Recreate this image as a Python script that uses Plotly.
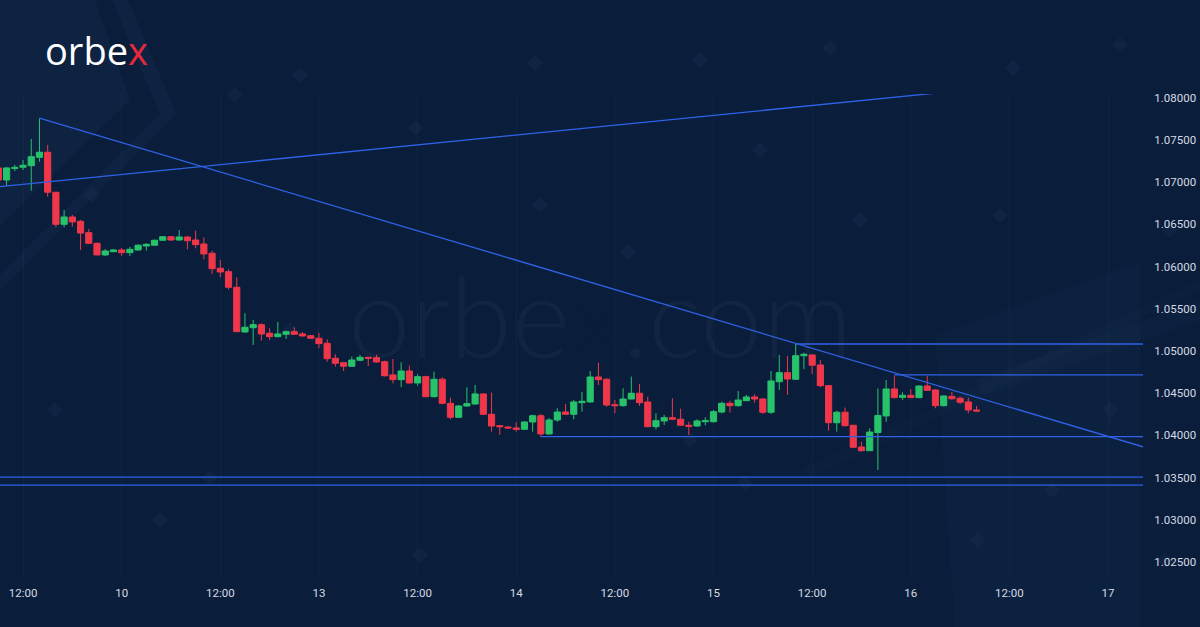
import plotly.graph_objects as go
import pandas as pd

# ---------------- data (hourly candles, 9 Jun 09:00 -> 16 Jun 08:00, weekend skipped) -------------
open_ = [1.07169, 1.07026, 1.07163, 1.07177, 1.07196, 1.07295, 1.07355, 1.06881, 1.06501, 1.06588,
         1.06537, 1.06402, 1.06276, 1.06138, 1.06177, 1.06197, 1.06165, 1.06197, 1.06244, 1.06253,
         1.06312, 1.06354, 1.06315, 1.06351, 1.06315, 1.06268, 1.06158, 1.05980, 1.05940, 1.05755,
         1.05225, 1.05276, 1.05312, 1.05210, 1.05170, 1.05198, 1.05229, 1.05202, 1.05181, 1.05151,
         1.05091, 1.04914, 1.04861, 1.04819, 1.04890, 1.04925, 1.04921, 1.04873, 1.04716, 1.04660,
         1.04763, 1.04621, 1.04696, 1.04459, 1.04665, 1.04380, 1.04214, 1.04348, 1.04372, 1.04491,
         1.04250, 1.04115, 1.04099, 1.04088, 1.04072, 1.04159, 1.04233, 1.04017, 1.04182, 1.04277,
         1.04250, 1.04387, 1.04396, 1.04692, 1.04665, 1.04364, 1.04352, 1.04431, 1.04499, 1.04396,
         1.04103, 1.04171, 1.04210, 1.04191, 1.04120, 1.04111, 1.04162, 1.04162, 1.04277, 1.04380,
         1.04352, 1.04411, 1.04455, 1.04431, 1.04274, 1.04636, 1.04743, 1.04665, 1.04944, 1.04953,
         1.04834, 1.04589, 1.04150, 1.04274, 1.04120, 1.03862, 1.03819, 1.04034, 1.04230, 1.04550,
         1.04451, 1.04475, 1.04447, 1.04585, 1.04538, 1.04352, 1.04463, 1.04440, 1.04396, 1.04301]
high = [1.07192, 1.07180, 1.07204, 1.07263, 1.07512, 1.07758, 1.07441, 1.06884, 1.06671, 1.06612,
        1.06552, 1.06446, 1.06283, 1.06209, 1.06209, 1.06221, 1.06233, 1.06264, 1.06276, 1.06319,
        1.06363, 1.06363, 1.06434, 1.06363, 1.06426, 1.06347, 1.06189, 1.06078, 1.05968, 1.05873,
        1.05447, 1.05367, 1.05328, 1.05269, 1.05344, 1.05241, 1.05281, 1.05225, 1.05190, 1.05217,
        1.05139, 1.04961, 1.04870, 1.04933, 1.04953, 1.04925, 1.04956, 1.04885, 1.04905, 1.04866,
        1.04826, 1.04724, 1.04707, 1.04755, 1.04688, 1.04447, 1.04360, 1.04570, 1.04597, 1.04499,
        1.04506, 1.04123, 1.04108, 1.04155, 1.04167, 1.04245, 1.04254, 1.04206, 1.04321, 1.04372,
        1.04419, 1.04514, 1.04763, 1.04861, 1.04676, 1.04419, 1.04558, 1.04696, 1.04609, 1.04459,
        1.04262, 1.04242, 1.04440, 1.04316, 1.04162, 1.04191, 1.04214, 1.04301, 1.04399, 1.04411,
        1.04526, 1.04479, 1.04487, 1.04443, 1.04763, 1.04953, 1.04941, 1.05083, 1.04980, 1.04961,
        1.04893, 1.04597, 1.04293, 1.04330, 1.04123, 1.03925, 1.04084, 1.04556, 1.04656, 1.04710,
        1.04511, 1.04546, 1.04591, 1.04704, 1.04546, 1.04473, 1.04514, 1.04459, 1.04447, 1.04348]
low = [1.07003, 1.06955, 1.07133, 1.07145, 1.06900, 1.07243, 1.06828, 1.06466, 1.06466, 1.06473,
       1.06197, 1.06268, 1.06134, 1.06126, 1.06170, 1.06126, 1.06126, 1.06189, 1.06189, 1.06248,
       1.06304, 1.06307, 1.06307, 1.06205, 1.06217, 1.06087, 1.05912, 1.05873, 1.05731, 1.05225,
       1.05217, 1.05071, 1.05122, 1.05130, 1.05162, 1.05142, 1.05190, 1.05170, 1.05142, 1.05032,
       1.04873, 1.04814, 1.04763, 1.04814, 1.04882, 1.04822, 1.04861, 1.04696, 1.04617, 1.04573,
       1.04617, 1.04589, 1.04451, 1.04449, 1.04368, 1.04191, 1.04210, 1.04340, 1.04364, 1.04242,
       1.04044, 1.04005, 1.04079, 1.04044, 1.04064, 1.04044, 1.03984, 1.04008, 1.04162, 1.04242,
       1.04191, 1.04281, 1.04387, 1.04597, 1.04340, 1.04262, 1.04340, 1.04428, 1.04348, 1.04096,
       1.04072, 1.04123, 1.04182, 1.04111, 1.04005, 1.04103, 1.04120, 1.04150, 1.04262, 1.04269,
       1.04340, 1.04408, 1.04387, 1.04254, 1.04254, 1.04538, 1.04479, 1.04656, 1.04783, 1.04728,
       1.04570, 1.04056, 1.04044, 1.04103, 1.03851, 1.03807, 1.03815, 1.03590, 1.04162, 1.04440,
       1.04419, 1.04447, 1.04443, 1.04526, 1.04321, 1.04342, 1.04423, 1.04372, 1.04262, 1.04281]
close = [1.07026, 1.07169, 1.07175, 1.07201, 1.07302, 1.07355, 1.06881, 1.06501, 1.06588, 1.06529,
         1.06398, 1.06276, 1.06138, 1.06185, 1.06197, 1.06165, 1.06205, 1.06253, 1.06264, 1.06312,
         1.06354, 1.06315, 1.06351, 1.06307, 1.06260, 1.06150, 1.05975, 1.05936, 1.05755, 1.05229,
         1.05281, 1.05312, 1.05202, 1.05170, 1.05202, 1.05229, 1.05198, 1.05178, 1.05151, 1.05087,
         1.04909, 1.04854, 1.04819, 1.04893, 1.04925, 1.04914, 1.04870, 1.04707, 1.04660, 1.04763,
         1.04621, 1.04696, 1.04459, 1.04665, 1.04380, 1.04214, 1.04348, 1.04376, 1.04491, 1.04250,
         1.04111, 1.04103, 1.04088, 1.04072, 1.04159, 1.04233, 1.04017, 1.04182, 1.04277, 1.04250,
         1.04396, 1.04404, 1.04692, 1.04660, 1.04360, 1.04352, 1.04431, 1.04499, 1.04387, 1.04103,
         1.04174, 1.04210, 1.04191, 1.04120, 1.04108, 1.04171, 1.04174, 1.04281, 1.04380, 1.04352,
         1.04419, 1.04455, 1.04431, 1.04274, 1.04645, 1.04743, 1.04668, 1.04944, 1.04961, 1.04831,
         1.04589, 1.04150, 1.04274, 1.04115, 1.03859, 1.03819, 1.04040, 1.04236, 1.04550, 1.04447,
         1.04475, 1.04449, 1.04585, 1.04534, 1.04352, 1.04467, 1.04434, 1.04393, 1.04301, 1.04289]

all_hours = pd.date_range("2022-06-09 09:00", "2022-06-16 08:00", freq="h")
times = all_hours[all_hours.dayofweek < 5]

x_tick_vals = ["2022-06-09 12:00", "2022-06-10 00:00", "2022-06-10 12:00", "2022-06-13 00:00",
               "2022-06-13 12:00", "2022-06-14 00:00", "2022-06-14 12:00", "2022-06-15 00:00",
               "2022-06-15 12:00", "2022-06-16 00:00", "2022-06-16 12:00", "2022-06-17 00:00"]
x_tick_text = ["12:00", "10", "12:00", "13", "12:00", "14", "12:00", "15", "12:00", "16", "12:00", "17"]
y_tick_vals = [1.025, 1.030, 1.035, 1.040, 1.045, 1.050, 1.055, 1.060, 1.065, 1.070, 1.075, 1.080]

x_range = ["2022-06-09 09:12", "2022-06-17 04:15"]
y_range = [1.0231, 1.08045]

# drawn levels: (start time, price); run to the right edge
levels = [("2022-06-15 10:00", 1.05083), ("2022-06-15 22:00", 1.04716), ("2022-06-14 03:00", 1.03984),
          ("2022-06-09 09:00", 1.03505), ("2022-06-09 09:00", 1.03410)]
# trend lines: (x0, y0, x1, y1)
trend_lines = [("2022-06-09 14:00", 1.07758, "2022-06-17 04:15", 1.03865),
               ("2022-06-09 09:00", 1.06945, "2022-06-17 04:15", 1.08301)]

BG = "#0a1e3c"
GREEN = "#27c36b"
RED = "#f0374a"
LINE = "#2f62e6"
TXT = "#d6dae2"

fig = go.Figure()
fig.add_trace(go.Candlestick(
    x=times, open=open_, high=high, low=low, close=close,
    increasing=dict(line=dict(color=GREEN, width=1), fillcolor=GREEN),
    decreasing=dict(line=dict(color=RED, width=1), fillcolor=RED),
    whiskerwidth=0, showlegend=False, hoverinfo="skip"))

shapes = []
# background decoration (faint)
W, T, B = 1143.0, 94.0, 578.0
def P(px, py):
    return px / W, (B - py) / (B - T)

def poly(pts, alpha):
    s = ""
    for k, (px, py) in enumerate(pts):
        X, Y = P(px, py)
        s += ("M" if k == 0 else "L") + f"{X:.5f},{Y:.5f}"
    s += "Z"
    return dict(type="path", xref="paper", yref="paper", path=s, layer="below",
                fillcolor=f"rgba(140,170,220,{alpha})", line=dict(width=0))

shapes.append(poly([(0, 0), (95, 0), (130, 100), (0, 225)], 0.035))
shapes.append(poly([(112, 0), (128, 0), (176, 114), (0, 290), (0, 275), (160, 114)], 0.04))
shapes.append(poly([(935, 335), (1140, 262), (1140, 627), (955, 627)], 0.025))
shapes.append(poly([(975, 380), (1200, 300), (1200, 320), (985, 395)], 0.025))
shapes.append(poly([(800, 470), (1200, 280), (1200, 290), (810, 478)], 0.02))

for (px, py) in [(535, 63), (700, 60), (830, 48), (1013, 68), (1120, 45), (415, 128), (92, 195),
                 (290, 330), (210, 478), (160, 520), (540, 205), (628, 252), (690, 440), (745, 483),
                 (1110, 410), (1052, 490), (978, 540), (300, 75), (860, 220), (1000, 215), (420, 555),
                 (235, 95), (760, 150), (1170, 230), (55, 410), (1165, 560)]:
    X, Y = P(px, py)
    shapes.append(dict(type="path", xref="paper", yref="paper", xsizemode="pixel", ysizemode="pixel",
                       xanchor=X, yanchor=Y, path="M0,8L8,0L0,-8L-8,0Z", layer="below",
                       fillcolor="rgba(140,170,220,0.045)", line=dict(width=0)))

for (t0, p) in levels:
    shapes.append(dict(type="line", xref="x", yref="y", x0=t0, x1=x_range[1], y0=p, y1=p,
                       line=dict(color=LINE, width=1.3), layer="above"))
for (t0, p0, t1, p1) in trend_lines:
    shapes.append(dict(type="line", xref="x", yref="y", x0=t0, x1=t1, y0=p0, y1=p1,
                       line=dict(color=LINE, width=1.3), layer="above"))
# cover above the plot top so the top price label appears clipped like the original
shapes.append(dict(type="rect", xref="paper", yref="paper", x0=1.0, x1=1.06, y0=1.0, y1=1.03,
                   fillcolor=BG, line=dict(width=0), layer="above"))

annotations = [
    dict(text="orbe<span style='color:#e8283c'>x</span>", xref="paper", yref="paper",
         x=P(43, 0)[0], y=P(0, 50)[1], xanchor="left", yanchor="middle", showarrow=False,
         font=dict(family="Open Sans", size=38, color="#ffffff", weight=400)),
    dict(text="orbe<span style='color:rgb(26,27,54)'>x</span>.com", xref="paper", yref="paper",
         x=P(600, 0)[0], y=P(0, 314)[1], xanchor="center", yanchor="middle", showarrow=False,
         font=dict(family="Lato", size=112, color="rgba(160,185,225,0.05)", weight=300)),
]

fig.update_layout(
    width=1200, height=627,
    margin=dict(l=0, r=57, t=94, b=49),
    paper_bgcolor=BG, plot_bgcolor="rgba(0,0,0,0)",
    boxgap=0.25, boxgroupgap=0.0,
    shapes=shapes, annotations=annotations,
    font=dict(family="Roboto", size=11.5, color=TXT),
    showlegend=False,
    xaxis=dict(range=x_range, type="date", rangeslider=dict(visible=False),
               rangebreaks=[dict(bounds=["sat", "mon"])],
               tickmode="array", tickvals=x_tick_vals, ticktext=x_tick_text,
               ticks="outside", ticklen=4, tickcolor="rgba(0,0,0,0)",
               showgrid=True, gridcolor="rgba(255,255,255,0.03)", gridwidth=1,
               showline=False, zeroline=False, tickfont=dict(color=TXT, size=11.5)),
    yaxis=dict(range=y_range, side="right", tickmode="array", tickvals=y_tick_vals,
               tickformat=".5f", ticks="outside", ticklen=8, tickcolor="rgba(0,0,0,0)",
               showgrid=False, showline=False, zeroline=False, tickfont=dict(color=TXT, size=11.5)),
)

fig.write_html("out.html", config={"displayModeBar": False, "staticPlot": True}, post_script=(
    "document.documentElement.style.margin='0';document.body.style.margin='0';"
    "document.body.style.padding='0';document.body.style.overflow='hidden';"
    f"document.body.style.background='{BG}';"))
